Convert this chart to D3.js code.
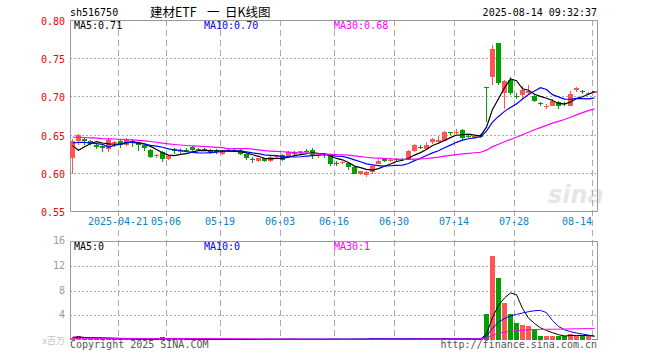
<!DOCTYPE html>
<html><head><meta charset="utf-8">
<script src="https://cdn.jsdelivr.net/npm/d3@7/dist/d3.min.js"></script>
<style>body{margin:0;background:#fff}svg{display:block}</style>
</head><body>
<svg id="chart" width="660" height="360"></svg>
<script>
// ---------- data ----------
const dates = ["04-09","04-10","04-11","04-14","04-15","04-16","04-17","04-18","04-21","04-22","04-23","04-24","04-25","04-28","04-29","04-30",
"05-06","05-07","05-08","05-09","05-12","05-13","05-14","05-15","05-16","05-19","05-20","05-21","05-22","05-23","05-26","05-27","05-28","05-29","05-30",
"06-03","06-04","06-05","06-06","06-09","06-10","06-11","06-12","06-13","06-16","06-17","06-18","06-19","06-20","06-23","06-24","06-25","06-26","06-27","06-30",
"07-01","07-02","07-03","07-04","07-07","07-08","07-09","07-10","07-11","07-14","07-15","07-16","07-17","07-18","07-21","07-22","07-23","07-24","07-25","07-28","07-29","07-30","07-31",
"08-01","08-04","08-05","08-06","08-07","08-08","08-11","08-12","08-13","08-14"];

const openP = [0.620,0.641,0.644,0.641,0.637,0.635,0.631,0.639,0.642,0.637,0.641,0.639,0.636,0.630,0.622,0.627,0.618,0.631,0.628,0.630,
0.634,0.631,0.631,0.630,0.630,0.624,0.630,0.630,0.630,0.624,0.618,0.615,0.619,0.615,0.621,0.623,0.621,0.627,0.626,0.629,
0.630,0.622,0.624,0.622,0.613,0.613,0.613,0.607,0.598,0.597,0.601,0.612,0.618,0.616,0.618,0.618,0.618,0.628,0.634,0.631,
0.640,0.640,0.642,0.653,0.653,0.656,0.648,0.646,0.649,0.712,0.725,0.770,0.704,0.722,0.701,0.702,0.704,0.701,0.691,0.686,
0.688,0.693,0.691,0.688,0.708,0.707,0.703,0.705];
const highP = [0.644,0.651,0.646,0.643,0.639,0.637,0.645,0.642,0.643,0.645,0.644,0.640,0.637,0.631,0.625,0.628,0.623,0.633,0.632,0.632,
0.635,0.633,0.633,0.631,0.631,0.630,0.632,0.632,0.631,0.625,0.621,0.620,0.620,0.622,0.623,0.624,0.628,0.629,0.629,0.631,
0.632,0.626,0.625,0.623,0.615,0.616,0.614,0.608,0.603,0.602,0.610,0.618,0.619,0.619,0.620,0.619,0.630,0.638,0.637,0.640,
0.646,0.648,0.655,0.654,0.657,0.657,0.651,0.649,0.651,0.712,0.767,0.770,0.721,0.725,0.705,0.713,0.715,0.702,0.693,0.690,
0.696,0.694,0.693,0.707,0.712,0.709,0.706,0.707];
const lowP = [0.599,0.636,0.637,0.636,0.631,0.627,0.627,0.634,0.633,0.635,0.634,0.628,0.629,0.619,0.620,0.614,0.617,0.624,0.625,0.627,
0.628,0.628,0.628,0.625,0.624,0.623,0.627,0.627,0.623,0.617,0.613,0.614,0.614,0.614,0.618,0.616,0.620,0.622,0.625,0.625,
0.618,0.620,0.619,0.609,0.609,0.611,0.604,0.598,0.597,0.594,0.599,0.611,0.614,0.614,0.614,0.615,0.617,0.627,0.631,0.630,
0.638,0.638,0.641,0.650,0.651,0.641,0.645,0.645,0.645,0.667,0.715,0.715,0.683,0.702,0.696,0.697,0.702,0.693,0.687,0.683,
0.687,0.684,0.687,0.687,0.706,0.703,0.702,0.704];
const closeP = [0.642,0.649,0.641,0.638,0.634,0.633,0.643,0.640,0.637,0.643,0.640,0.637,0.632,0.621,0.623,0.618,0.622,0.628,0.629,0.628,
0.630,0.630,0.630,0.627,0.627,0.629,0.629,0.628,0.625,0.619,0.617,0.619,0.615,0.621,0.622,0.617,0.627,0.625,0.628,0.628,
0.623,0.624,0.623,0.612,0.612,0.614,0.607,0.599,0.602,0.601,0.609,0.616,0.615,0.617,0.617,0.617,0.629,0.636,0.633,0.637,
0.644,0.643,0.654,0.652,0.654,0.646,0.647,0.648,0.647,0.711,0.762,0.717,0.720,0.704,0.700,0.709,0.707,0.694,0.690,0.688,
0.694,0.688,0.690,0.703,0.711,0.706,0.704,0.707];
// volume, millions
const volume = [0.30,0.65,0.20,0.18,0.15,0.20,0.25,0.15,0.15,0.18,0.12,0.15,0.15,0.20,0.12,0.50,0.15,0.18,0.12,0.10,
0.15,0.10,0.10,0.12,0.15,0.12,0.10,0.10,0.12,0.15,0.12,0.10,0.12,0.15,0.10,0.15,0.15,0.12,0.10,0.10,
0.15,0.12,0.10,0.18,0.12,0.10,0.15,0.20,0.15,0.18,0.35,0.20,0.15,0.12,0.15,0.12,0.25,0.22,0.15,0.18,
0.20,0.18,0.25,0.15,0.15,0.20,0.15,0.12,0.15,4.2,13.5,10.1,6.0,4.2,2.8,2.4,2.26,1.7,0.65,0.65,
0.65,0.65,0.65,1.0,0.65,0.65,0.65,0.12];
// closes / volumes of the sessions before the first drawn day (needed by the moving averages)
const priorClose = [0.648,0.650,0.652,0.645,0.653,0.650,0.648,0.651,0.654,0.651,0.653,0.650,0.649,0.652,0.655,0.652,0.650,0.648,0.649,0.645,
0.640,0.643,0.645,0.642,0.642,0.679,0.619,0.618,0.620];
const priorVolume = [0.20,0.22,0.18,0.25,0.20,0.22,0.18,0.20,0.25,0.22,0.20,0.18,0.22,0.20,0.25,0.20,0.22,0.18,0.20,0.22,
0.25,0.20,0.18,0.22,0.30,0.28,0.35,0.60,0.55,0.40];

const priceTicks = [0.80,0.75,0.70,0.65,0.60,0.55];
const volTicks = [16,12,8,4];
const tickDates = ["04-21","05-06","05-19","06-03","06-16","06-30","07-14","07-28","08-14"];
const tickLabels = ["2025-04-21","05-06","05-19","06-03","06-16","06-30","07-14","07-28","08-14"];
const titleParts = ["建材ETF", "一", "日K线图"];
const maPeriods = [5,10,30];
const maColors = ["#000000","#0000ff","#ff00ff"];

// ---------- layout ----------
const L = 70, R = 597, PT = 20, PB = 211, VT = 241, VB = 340;
const RED = "#ff5555", GREEN = "#00a000";
const MONO = "'DejaVu Sans Mono', monospace";
const CJK = "'Noto Sans CJK SC', sans-serif";

const svg = d3.select("#chart");
const n = dates.length;
const x = d3.scaleBand().domain(dates).range([L, R]).paddingInner(1/6).paddingOuter(0);
const y = d3.scaleLinear().domain([0.55, 0.80]).range([PB, PT]);
const yv = d3.scaleLinear().domain([0, 16]).range([VB, VT]);
const bw = x.bandwidth();
const cx = d => Math.round(x(d)) + bw/2;

function movingAvg(prior, vals, p) {
  const all = prior.concat(vals);
  const off = prior.length;
  return vals.map((_, i) => d3.mean(all.slice(off + i - p + 1, off + i + 1)));
}
const priceMA = maPeriods.map(p => movingAvg(priorClose, closeP, p));
const volMA = maPeriods.map(p => movingAvg(priorVolume, volume, p));

// watermark
svg.append("text").attr("x", 548).attr("y", 203).attr("font-family", "'DejaVu Sans', sans-serif")
  .attr("font-size", 24).attr("font-weight", "bold").attr("font-style", "italic")
  .attr("fill", "#e6e6e6").text("sina");

// ---------- grids ----------
const g = svg.append("g");
g.selectAll(".hp").data(priceTicks.slice(1, -1)).join("line")
  .attr("x1", L).attr("x2", R).attr("y1", d => Math.round(y(d)) + 0.5).attr("y2", d => Math.round(y(d)) + 0.5)
  .attr("stroke", "#aaa").attr("stroke-dasharray", "2,2");
g.selectAll(".hv").data(volTicks.slice(1)).join("line")
  .attr("x1", L).attr("x2", R).attr("y1", d => Math.round(yv(d)) + 0.5).attr("y2", d => Math.round(yv(d)) + 0.5)
  .attr("stroke", "#aaa").attr("stroke-dasharray", "2,2");
g.selectAll(".vg").data(tickDates).join("line")
  .attr("x1", d => Math.round(x(d)) + 0.5).attr("x2", d => Math.round(x(d)) + 0.5)
  .attr("y1", PT).attr("y2", VB)
  .attr("stroke", "#aaa").attr("stroke-dasharray", "6,4");

// frames
svg.append("path").attr("d", `M${L+0.5},${PB+0.5}V${PT+0.5}H${R+0.5}V${PB+0.5}H${L+0.5}`)
  .attr("fill", "none").attr("stroke", "#999");
svg.append("path").attr("d", `M${L+0.5},${VB}V${VT+0.5}H${R+0.5}V${VB}`)
  .attr("fill", "none").attr("stroke", "#999");

// ---------- candles ----------
const idx = d3.range(n);
const color = i => closeP[i] > openP[i] ? RED : (closeP[i] < openP[i] ? GREEN : (i > 0 && closeP[i] < closeP[i-1] ? GREEN : RED));
const cg = svg.append("g");
cg.selectAll(".wick").data(idx).join("rect")
  .attr("x", i => Math.round(x(dates[i])) + 2).attr("width", 1)
  .attr("y", i => Math.round(y(highP[i])))
  .attr("height", i => Math.max(1, Math.round(y(lowP[i])) - Math.round(y(highP[i]))))
  .attr("fill", color);
cg.selectAll(".body").data(idx).join("rect")
  .attr("x", i => Math.round(x(dates[i]))).attr("width", 5)
  .attr("y", i => Math.round(y(Math.max(openP[i], closeP[i]))))
  .attr("height", i => Math.max(1, Math.round(y(Math.min(openP[i], closeP[i]))) - Math.round(y(Math.max(openP[i], closeP[i])))))
  .attr("fill", color);

const lineP = d3.line().x((d, i) => cx(dates[i])).y(d => y(d));
priceMA.forEach((arr, k) => {
  svg.append("path").attr("d", lineP(arr)).attr("fill", "none")
    .attr("stroke", maColors[k]).attr("stroke-width", 1.2);
});

// ---------- volume ----------
const vg = svg.append("g");
vg.selectAll(".vb").data(idx).join("rect")
  .attr("x", i => Math.round(x(dates[i]))).attr("width", 5)
  .attr("y", i => Math.min(VB - 1, Math.round(yv(volume[i]))))
  .attr("height", i => Math.max(1, VB - Math.round(yv(volume[i]))))
  .attr("fill", color);
const lineV = d3.line().x((d, i) => cx(dates[i])).y(d => yv(d));
volMA.forEach((arr, k) => {
  svg.append("path").attr("d", lineV(arr)).attr("fill", "none")
    .attr("stroke", maColors[k]).attr("stroke-width", 1);
});

// ---------- texts ----------
const t = (xx, yy, txt, opts = {}) => svg.append("text").attr("x", xx).attr("y", yy)
  .attr("font-family", opts.font || MONO).attr("font-size", opts.size || 10)
  .attr("fill", opts.fill || "#000").attr("text-anchor", opts.anchor || "start").text(txt);

t(70, 16, "sh516750");
const titleX = [150, 207, 225];
titleParts.forEach((s, k) => t(titleX[k], 17, s, {font: CJK, size: 12.5}));
t(597, 16, "2025-08-14 09:32:37", {anchor: "end"});

svg.selectAll(".pl").data(priceTicks).join("text")
  .attr("x", 65).attr("y", d => Math.round(y(d)) + 5).attr("text-anchor", "end")
  .attr("font-family", MONO).attr("font-size", 10).attr("fill", "#ee0000")
  .text(d => d3.format(".2f")(d));
svg.selectAll(".vl").data(volTicks).join("text")
  .attr("x", 65).attr("y", d => Math.round(yv(d)) + 3).attr("text-anchor", "end")
  .attr("font-family", MONO).attr("font-size", 10).attr("fill", "#999")
  .text(d => d);
t(65, 344, "x百万", {anchor: "end", fill: "#c4c4c4", font: CJK, size: 9});

svg.selectAll(".dl").data(tickDates).join("text")
  .attr("x", d => Math.round(x(d)))
  .attr("y", 225)
  .attr("text-anchor", (d, i) => i === tickDates.length - 1 ? "end" : "middle")
  .attr("font-family", MONO).attr("font-size", 10).attr("fill", "#0a84c8")
  .text((d, i) => tickLabels[i]);

const last = n - 1;
const maLabelX = [74, 204, 334];
maPeriods.forEach((p, k) => {
  t(maLabelX[k], 29, `MA${p}:${priceMA[k][last].toFixed(2)}`, {fill: maColors[k]});
  t(maLabelX[k], 250, `MA${p}:${Math.floor(volMA[k][last])}`, {fill: maColors[k]});
});

t(70, 348, "Copyright 2025 SINA.COM", {fill: "#555"});
t(597, 348, "http://finance.sina.com.cn", {fill: "#555", anchor: "end"});
</script>
</body></html>
